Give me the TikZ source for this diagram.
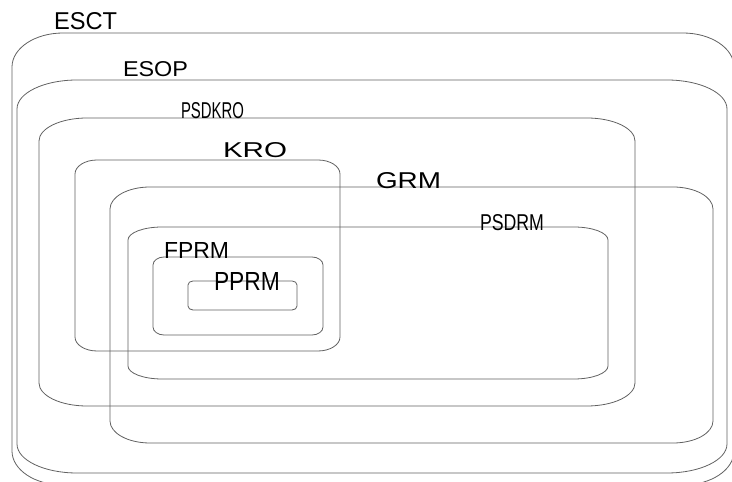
\documentclass[tikz,border=0pt]{standalone}
\usepackage{fontspec}
\setmainfont{Liberation Sans}
\usepackage{graphicx}
\newcommand\erect[7]{%
  \draw[#7] ({#1+#5},{482-#2}) -- ({#3-#5},{482-#2})
    arc[start angle=90,end angle=0,x radius=#5,y radius=#6]
    -- ({#3},{482-#4+#6})
    arc[start angle=0,end angle=-90,x radius=#5,y radius=#6]
    -- ({#1+#5},{482-#4})
    arc[start angle=-90,end angle=-180,x radius=#5,y radius=#6]
    -- ({#1},{482-#2-#6})
    arc[start angle=180,end angle=90,x radius=#5,y radius=#6]
    -- cycle;}
\newcommand\lbl[6]{%
  \node[lab] (#1) at ({#2},{482-#3}) {\resizebox{#4pt}{#5pt}{#6}};}
\begin{document}
\begin{tikzpicture}[x=1pt,y=1pt,
  box/.style={draw=black!62,line width=0.8pt},
  lab/.style={anchor=base west,inner sep=0pt,outer sep=0pt,text=black}]
\useasboundingbox (0,0) rectangle (732,482);
\clip (0,0) rectangle (732,482);
\erect{12}{33}{734}{485}{51}{34}{box}
\erect{17}{80}{727}{473}{60}{29}{box}
\erect{39}{118}{635}{406}{48}{23}{box}
\erect{75}{160}{340}{351}{22}{14}{box}
\erect{110}{187}{713}{443}{40}{22}{box}
\erect{128}{227}{608}{379}{34}{13}{box}
\erect{153}{257}{323}{335}{11}{8}{box}
\erect{188}{281}{297}{310}{5}{4}{box}
\lbl{esct}{54}{30}{63}{17}{ESCT}
\lbl{esop}{123}{77}{65}{15}{ESOP}
\lbl{psdkro}{181}{119}{63}{16}{PSDKRO}
\lbl{kro}{223}{158}{64}{15}{KRO}
\lbl{grm}{376}{189}{65}{16}{GRM}
\lbl{psdrm}{480}{231}{64}{16}{PSDRM}
\lbl{fprm}{164}{259}{65}{16}{FPRM}
\lbl{pprm}{214}{291}{66}{18}{PPRM}
\end{tikzpicture}
\end{document}
